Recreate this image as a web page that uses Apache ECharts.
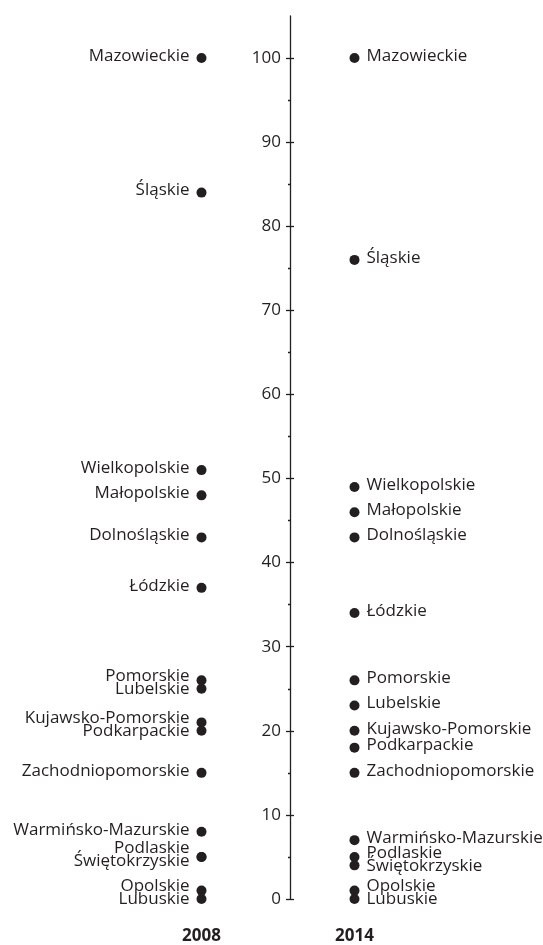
<!DOCTYPE html>
<html>
<head>
<meta charset="utf-8">
<script src="https://cdn.jsdelivr.net/npm/echarts@6/dist/echarts.min.js"></script>
<style>
  html, body { margin: 0; padding: 0; background: #fff; }
  #main { width: 543px; height: 945px; }
</style>
</head>
<body>
<div id="main"></div>
<script>
const years = ['2008', '2014']
const regions = [
  'Mazowieckie', 'Śląskie', 'Wielkopolskie', 'Małopolskie', 'Dolnośląskie', 'Łódzkie',
  'Pomorskie', 'Lubelskie', 'Kujawsko-Pomorskie', 'Podkarpackie', 'Zachodniopomorskie',
  'Warmińsko-Mazurskie', 'Podlaskie', 'Świętokrzyskie', 'Opolskie', 'Lubuskie'
]
const values2008 = [100, 84, 51, 48, 43, 37, 26, 25, 21, 20, 15, 8, 5, 5, 1, 0]
const values2014 = [100, 76, 49, 46, 43, 34, 26, 23, 20, 18, 15, 7, 5, 4, 1, 0]
const yTicks = [0, 10, 20, 30, 40, 50, 60, 70, 80, 90, 100]

const ink = '#231f20'
const font = 'Open Sans'

var myChart = echarts.init(document.getElementById('main'))

// push labels apart so they don't overlap (points are ordered top to bottom)
function spread(ys, gap) {
  const out = ys.slice()
  for (let it = 0; it < 300; it++) {
    let moved = false
    for (let i = 1; i < out.length; i++) {
      const d = out[i] - out[i - 1]
      if (d < gap - 0.01) {
        const s = (gap - d) / 2
        out[i - 1] -= s
        out[i] += s
        moved = true
      }
    }
    if (!moved) break
  }
  return out
}

function makeData(col, values, offsets) {
  return values.map(function (v, i) {
    return {
      name: regions[i],
      value: [col, v],
      label: { offset: [0, offsets ? offsets[i] : 0] },
    }
  })
}

function makeSeries(col, values, side, offsets) {
  return {
    type: 'scatter',
    symbolSize: 10,
    itemStyle: { color: ink, opacity: 1 },
    data: makeData(col, values, offsets),
    label: {
      show: true,
      position: side,
      distance: 7,
      formatter: '{b}',
      color: ink,
      fontFamily: font,
      fontSize: 17,
    },
    emphasis: { disabled: true },
  }
}

var option = {
  animation: false,
  grid: { left: 125, right: 112, top: 16, bottom: 46 },
  xAxis: {
    type: 'category',
    data: years,
    axisLine: { show: false },
    axisTick: { show: false },
    axisLabel: { margin: 29, fontFamily: font, fontWeight: 'bold', fontSize: 17, color: ink },
    splitLine: { show: false },
  },
  yAxis: [
    {
      type: 'value',
      min: 0,
      max: 105,
      interval: 10,
      position: 'left',
      offset: -165,
      axisLine: { show: true, lineStyle: { color: ink, width: 1.3 } },
      axisTick: { show: true, length: 4, customValues: yTicks, lineStyle: { color: ink, width: 1.3 } },
      minorTick: { show: true, splitNumber: 2, length: 2, lineStyle: { color: ink, width: 1.3 } },
      axisLabel: { customValues: yTicks, margin: 9, fontFamily: font, fontSize: 17, color: ink },
      splitLine: { show: false },
    },
    {
      type: 'value',
      min: 0,
      max: 105,
      interval: 10,
      position: 'left',
      offset: -165,
      axisLine: { show: false },
      axisTick: { show: true, inside: true, length: 4, customValues: yTicks, lineStyle: { color: ink, width: 1.3 } },
      minorTick: { show: false },
      axisLabel: { show: false },
      splitLine: { show: false },
    },
  ],
  series: [makeSeries(0, values2008, 'left'), makeSeries(1, values2014, 'right')],
}

myChart.setOption(option)

// label nudges computed from the pixel positions of the points
function labelOffsets(col, values) {
  const ys = values.map(function (v) {
    return myChart.convertToPixel({ gridIndex: 0 }, [col, v])[1]
  })
  const placed = spread(ys.map(function (y) { return y - 2 }), 13)
  return placed.map(function (y, i) { return y - ys[i] })
}

option.series = [
  makeSeries(0, values2008, 'left', labelOffsets(0, values2008)),
  makeSeries(1, values2014, 'right', labelOffsets(1, values2014)),
]
myChart.setOption(option)
</script>
</body>
</html>
